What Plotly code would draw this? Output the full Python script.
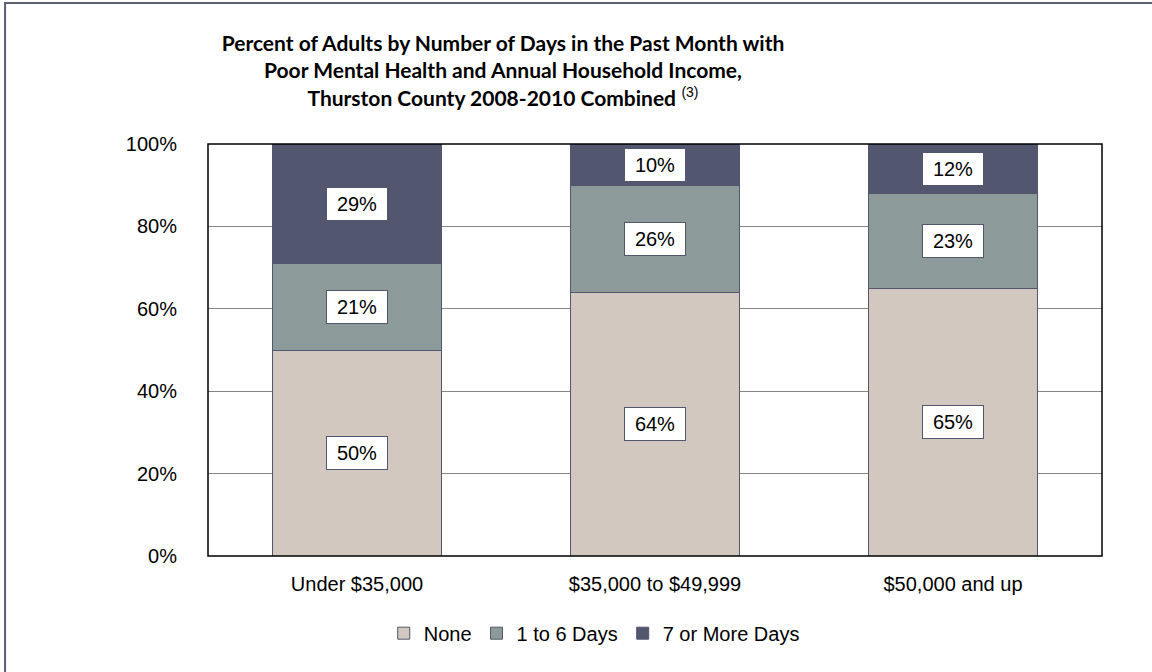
import plotly.graph_objects as go

# income groups and share of adults by poor-mental-health days
categories = ["Under $35,000", "$35,000 to $49,999", "$50,000 and up"]
none_pct = [50, 64, 65]
days_1_6 = [21, 26, 23]
days_7_plus = [29, 10, 12]
y_ticks = [0, 20, 40, 60, 80, 100]
y_tick_labels = ["0%", "20%", "40%", "60%", "80%", "100%"]

series = [
    ("None", none_pct, "#d3c8bf"),
    ("1 to 6 Days", days_1_6, "#8c9a99"),
    ("7 or More Days", days_7_plus, "#52566e"),
]

fig = go.Figure()
for name, vals, col in series:
    fig.add_trace(go.Bar(
        x=categories, y=vals, name=name,
        marker=dict(color=col, line=dict(color="#52566e", width=1)),
        width=0.57,
    ))

# value labels in white boxes, centred in each segment
base = [0, 0, 0]
for name, vals, col in series:
    for i, v in enumerate(vals):
        fig.add_annotation(
            x=categories[i], y=base[i] + v / 2, text=f"{v}%",
            showarrow=False, font=dict(size=20, color="black", family="Liberation Sans, Arial"),
            bgcolor="white", bordercolor="#52566e", borderwidth=1,
            borderpad=4, width=52, height=24,
        )
        base[i] += v

fig.update_layout(
    barmode="stack",
    width=1152, height=672,
    margin=dict(l=208, r=50, t=144, b=116),
    paper_bgcolor="white", plot_bgcolor="white",
    font=dict(family="Liberation Sans, Arial", size=20, color="black"),
    title=dict(
        text="<b>Percent of Adults by Number of Days in the Past Month with<br>"
             "Poor Mental Health and Annual Household Income,<br>"
             "Thurston County 2008-2010 Combined</b> "
             "<span style='font-family:Liberation Sans;font-size:20px'><sup>(3)</sup></span>",
        x=503 / 1152, xanchor="center", xref="container",
        y=1 - 51 / 672, yanchor="top",
        font=dict(family="Lato", size=21, color="black"),
    ),
    showlegend=True,
    legend=dict(orientation="h", x=0.432, xanchor="center", y=-0.14, yanchor="top",
                font=dict(size=20), traceorder="normal", itemwidth=30),
    bargap=0.43,
)
fig.update_yaxes(range=[0, 100], tickvals=y_ticks, ticktext=y_tick_labels,
                 showgrid=True, gridcolor="#858585", gridwidth=1.3,
                 ticks="", zeroline=False, showline=False, ticklabelstandoff=30)
fig.update_xaxes(showgrid=False, ticks="", showline=False, ticklabelstandoff=14)

# plot area frame
fig.add_shape(type="rect", xref="paper", yref="paper", x0=0, x1=1, y0=0, y1=1,
              line=dict(color="black", width=1.5), layer="above")
# outer chart border (right/bottom edges fall outside the view)
fig.add_shape(type="rect", xref="paper", yref="paper", x0=-0.227, x1=1.2, y0=-0.4, y1=1.342,
              line=dict(color="#5a5f72", width=2), layer="above")

fig.write_html("out.html", config={"displayModeBar": False},
               post_script="document.body.style.margin='0';")
